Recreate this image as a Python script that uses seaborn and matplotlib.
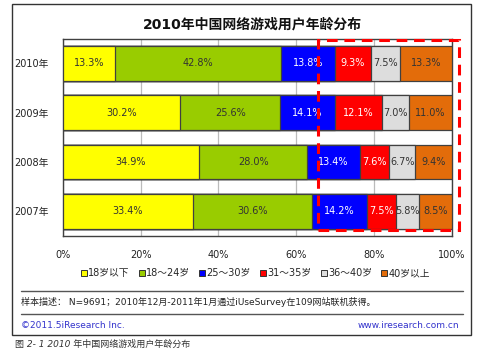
import matplotlib
matplotlib.use("Agg")
import matplotlib.pyplot as plt
import matplotlib.patches as mpatches
from matplotlib.lines import Line2D
import numpy as np
import pandas as pd
import seaborn as sns

# ---- data ----
years = ["2010年", "2009年", "2008年", "2007年"]
age_groups = ["18岁以下", "18～24岁", "25～30岁", "31～35岁", "36～40岁", "40岁以上"]
under18 = [13.3, 30.2, 34.9, 33.4]
age18_24 = [42.8, 25.6, 28.0, 30.6]
age25_30 = [13.8, 14.1, 13.4, 14.2]
age31_35 = [9.3, 12.1, 7.6, 7.5]
age36_40 = [7.5, 7.0, 6.7, 5.8]
over40 = [13.3, 11.0, 9.4, 8.5]
xticks = [0, 20, 40, 60, 80, 100]
xticklabels = ["0%", "20%", "40%", "60%", "80%", "100%"]

series = [under18, age18_24, age25_30, age31_35, age36_40, over40]
colors = ["#FFFF00", "#99CC00", "#0000FF", "#FF0000", "#DDDDDD", "#E36C0A"]
label_colors = ["#333333", "#333333", "#FFFFFF", "#FFFFFF", "#333333", "#333333"]

sns.set_theme(style="white")
plt.rcParams["font.family"] = ["DejaVu Sans", "Noto Sans CJK SC"]

fig = plt.figure(figsize=(4.8, 3.5), dpi=100)
ax = fig.add_axes([0.13125, 0.3257, 0.8098, 0.5637])

vals = np.array(series)  # groups x years
cum = np.cumsum(vals, axis=0)

# draw cumulative bars from largest to smallest to get stacked look
for i in range(len(age_groups) - 1, -1, -1):
    df = pd.DataFrame({"year": years, "value": cum[i]})
    sns.barplot(data=df, x="value", y="year", order=years, orient="h",
                color=colors[i], saturation=1, width=0.7,
                edgecolor="#404040", linewidth=0.9, ax=ax, zorder=3)

# segment labels
for i in range(len(age_groups)):
    for j in range(len(years)):
        center = cum[i][j] - vals[i][j] / 2
        ax.text(center, j, f"{vals[i][j]:.1f}%", ha="center", va="center",
                fontsize=7, color=label_colors[i], zorder=5)

ax.set_xlim(0, 100)
ax.set_ylim(3.5, -0.5)
ax.set_xticks(xticks)
ax.set_xticklabels(xticklabels, fontsize=7, color="#222222")
ax.tick_params(axis="x", length=0, pad=10)
ax.tick_params(axis="y", length=0, pad=10, labelsize=7, labelcolor="#222222")
ax.set_xlabel("")
ax.set_ylabel("")
ax.xaxis.grid(True, color="#BBBBBB", linewidth=0.9, zorder=0)
ax.set_axisbelow(True)
for s in ax.spines.values():
    s.set_color("#404040")
    s.set_linewidth(1.0)

# title
fig.text(0.525, 0.93, "2010年中国网络游戏用户年龄分布", ha="center", va="center",
         fontsize=10, fontweight="bold", color="#111111")

# legend
handles = [Line2D([0], [0], marker="s", linestyle="", markersize=4,
                  markerfacecolor=c, markeredgecolor="#333333", markeredgewidth=0.7)
           for c in colors]
fig.legend(handles, age_groups, loc="center", bbox_to_anchor=(0.531, 0.22),
           ncol=6, frameon=False, fontsize=7, handletextpad=0.05,
           columnspacing=0.85, handlelength=0.8)

# dashed red highlight box
rect = mpatches.Rectangle((0.656, 0.03), 0.362, 0.963, transform=ax.transAxes,
                          fill=False, edgecolor="#FF0000", linewidth=2.2,
                          linestyle=(0, (3.5, 2.2)), clip_on=False, zorder=6)
ax.add_patch(rect)

# outer frame
frame = mpatches.Rectangle((12 / 480, 1 - 335 / 350), (471 - 12) / 480, (335 - 4) / 350,
                           transform=fig.transFigure, fill=False,
                           edgecolor="#333333", linewidth=1.0)
fig.patches.append(frame)

# footer lines
for yy in [291, 314]:
    fig.add_artist(Line2D([21 / 480, 463 / 480], [1 - yy / 350, 1 - yy / 350],
                          transform=fig.transFigure, color="#555555", linewidth=1.0))

fig.text(21 / 480, 1 - 302 / 350,
         "样本描述： N=9691；2010年12月-2011年1月通过iUseSurvey在109网站联机获得。",
         ha="left", va="center", fontsize=6.5, color="#222222")
fig.text(21 / 480, 1 - 325 / 350, "©2011.5iResearch Inc.", ha="left", va="center",
         fontsize=6.5, color="#3333CC")
fig.text(459 / 480, 1 - 325 / 350, "www.iresearch.com.cn", ha="right", va="center",
         fontsize=6.5, color="#3333CC")
fig.text(15 / 480, 1 - 344 / 350, "图 2- 1 2010 年中国网络游戏用户年龄分布", ha="left",
         va="center", fontsize=6.5, color="#333333", style="italic")

fig.savefig("out.png", dpi=100)
